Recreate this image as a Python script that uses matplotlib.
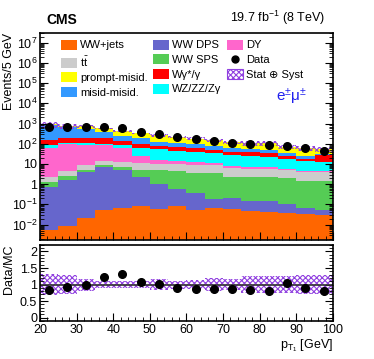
import numpy as np
import matplotlib
matplotlib.use("Agg")
import matplotlib.pyplot as plt
from matplotlib.patches import Patch
from matplotlib.lines import Line2D
from matplotlib.ticker import MultipleLocator, FixedLocator, FixedFormatter, NullFormatter

plt.rcParams['font.family'] = ['Liberation Sans', 'DejaVu Sans']
plt.rcParams['mathtext.fontset'] = 'custom'
plt.rcParams['mathtext.rm'] = 'Liberation Sans'
plt.rcParams['mathtext.it'] = 'Liberation Sans'
plt.rcParams['hatch.linewidth'] = 0.8

# ---- data ----
edges = np.arange(20, 101, 5)

ww_jets   = [0.0052, 0.0083, 0.021, 0.051, 0.066, 0.085, 0.062, 0.080, 0.055, 0.069, 0.057, 0.046, 0.042, 0.039, 0.035, 0.031]
ww_dps    = [0.715, 1.69, 3.78, 7.15, 4.83, 2.21, 1.01, 0.48, 0.315, 0.12, 0.15, 0.094, 0.098, 0.071, 0.031, 0.024]
ww_sps    = [0.58, 0.80, 1.50, 2.20, 2.30, 3.00, 3.83, 3.74, 3.33, 3.21, 2.19, 2.16, 2.06, 1.89, 1.33, 1.40]
ttbar     = [1.0, 2.1, 3.4, 4.6, 5.4, 5.9, 5.6, 5.5, 5.0, 5.3, 4.2, 3.6, 3.7, 2.9, 2.6, 2.55]
dy        = [62.7, 91.4, 82.3, 71.0, 46.4, 12.8, 6.1, 4.2, 3.9, 2.5, 1.2, 1.2, 1.2, 1.0, 0.4, 0.6]
wz_zz     = [20, 14, 19, 17, 26, 41, 35.4, 31, 27.4, 21.8, 19.2, 16.9, 14.9, 12.7, 9.6, 8.0]
wgamma    = [65, 85, 72, 80, 53, 37, 24, 21, 19, 15, 13, 13, 11, 6.4, 4.6, 14.4]
misid2    = [680, 455, 343, 181, 107, 80, 47, 49, 41, 28, 19, 15, 15, 10, 6.4, 3.0]
prompt_mi = [100, 130, 215, 212, 190, 140, 145, 95, 80, 70, 64, 58, 56, 37, 36, 24]

data_counts = [690, 690, 690, 690, 575, 375, 290, 204, 165, 138, 110, 92, 86, 76, 59, 44]
ratio       = [0.83, 0.93, 0.98, 1.23, 1.33, 1.07, 1.01, 0.90, 0.87, 0.88, 0.88, 0.83, 0.81, 1.05, 0.89, 0.81]
rel_unc     = [0.33, 0.28, 0.18, 0.10, 0.11, 0.10, 0.16, 0.12, 0.14, 0.19, 0.17, 0.27, 0.27, 0.27, 0.28, 0.30]

stack = [
    (ww_jets,   '#ff6600', 'WW+jets'),
    (ww_dps,    '#6666cc', 'WW DPS'),
    (ww_sps,    '#55cc55', 'WW SPS'),
    (ttbar,     '#cccccc', r'$\mathrm{t\bar{t}}$'),
    (dy,        '#ff66cc', 'DY'),
    (wz_zz,     '#00ffff', 'WZ/ZZ/Z\u03b3'),
    (wgamma,    '#ff0000', 'W\u03b3*/\u03b3'),
    (misid2,    '#3399ff', 'misid-misid.'),
    (prompt_mi, '#ffff00', 'prompt-misid.'),
]
band_col = '#9040e0'

fig = plt.figure(figsize=(3.74, 3.59), dpi=100)
ax = fig.add_axes([0.107, 0.331, 0.783, 0.577])
axr = fig.add_axes([0.107, 0.106, 0.783, 0.212])

centers = edges[:-1] + 2.5
bottom = np.zeros(len(centers))
for vals, col, lab in stack:
    ax.bar(edges[:-1], vals, width=5, bottom=bottom, align='edge', color=col, linewidth=0)
    bottom = bottom + np.array(vals)
total = bottom
rel = np.array(rel_unc)

# uncertainty band on top of the stack
ax.bar(edges[:-1], 2 * rel * total, width=5, bottom=total * (1 - rel), align='edge',
       fill=False, hatch='xxxxxx', edgecolor=band_col, linewidth=0)

dc = np.array(data_counts)
ax.errorbar(centers, dc, yerr=np.sqrt(dc), fmt='o', color='black', ms=5.5, elinewidth=1, capsize=0)

ax.set_yscale('log')
ax.set_ylim(1.7e-3, 3e7)
ax.set_xlim(20, 100)
dec = [1e-2, 1e-1, 1, 10, 1e2, 1e3, 1e4, 1e5, 1e6, 1e7]
declab = [r'$10^{-2}$', r'$10^{-1}$', '1', '10', r'$10^{2}$', r'$10^{3}$',
          r'$10^{4}$', r'$10^{5}$', r'$10^{6}$', r'$10^{7}$']
ax.yaxis.set_major_locator(FixedLocator(dec))
ax.yaxis.set_major_formatter(FixedFormatter(declab))
ax.yaxis.set_minor_locator(matplotlib.ticker.LogLocator(base=10, subs=np.arange(2, 10), numticks=20))
ax.yaxis.set_minor_formatter(NullFormatter())
ax.xaxis.set_major_locator(MultipleLocator(10))
ax.xaxis.set_minor_locator(MultipleLocator(2))
ax.set_xticklabels([])
ax.set_ylabel('Events/5 GeV', fontsize=9, loc='top')
ax.yaxis.set_label_coords(-0.085, 1.0)

for a in (ax, axr):
    a.tick_params(which='both', direction='in', right=True, top=False, labelsize=9, pad=2)
    a.tick_params(which='major', length=6)
    a.tick_params(which='minor', length=3)
    for s in a.spines.values():
        s.set_linewidth(1.2)

# legend
handles = [Patch(facecolor=c, edgecolor='none') for _, c, _ in stack]
labels = [l for _, _, l in stack]
h = {l: p for p, l in zip(handles, labels)}
order = ['WW+jets', r'$\mathrm{t\bar{t}}$', 'prompt-misid.', 'misid-misid.',
         'WW DPS', 'WW SPS', 'W\u03b3*/\u03b3', 'WZ/ZZ/Z\u03b3', 'DY']
leg_h = [h[o] for o in order]
leg_h.append(Line2D([], [], marker='o', color='black', ls='none', ms=5))
leg_h.append(Patch(facecolor='white', hatch='xxxxxx', edgecolor=band_col, linewidth=0.8))
leg_l = order + ['Data', 'Stat \u2295 Syst']
ax.legend(leg_h, leg_l, ncol=3, loc='upper left', bbox_to_anchor=(0.05, 1.0), frameon=False,
          fontsize=8, handlelength=1.4, handleheight=1.0, handletextpad=0.3,
          columnspacing=0.5, labelspacing=0.35, borderaxespad=0.2)

ax.text(0.86, 0.69, 'e$^{\\pm}$\u03bc$^{\\pm}$', transform=ax.transAxes, color='#2020ee',
        fontsize=11, ha='center', va='center')
fig.text(0.123, 0.925, 'CMS', fontsize=10, fontweight='bold', ha='left', va='bottom')
fig.text(0.87, 0.925, r'19.7 fb$^{-1}$ (8 TeV)', fontsize=9, ha='right', va='bottom')

# ratio panel
axr.bar(edges[:-1], 2 * rel, width=5, bottom=1 - rel, align='edge',
        fill=False, hatch='xxxxxx', edgecolor=band_col, linewidth=0)
axr.axhline(1, color='#333333', lw=1.2)
rt = np.array(ratio)
axr.errorbar(centers, rt, yerr=rt / np.sqrt(dc), fmt='o', color='black', ms=5.5, elinewidth=1, capsize=0)
axr.set_xlim(20, 100)
axr.set_ylim(-0.1, 2.2)
axr.yaxis.set_major_locator(FixedLocator([0, 0.5, 1, 1.5, 2]))
axr.yaxis.set_major_formatter(FixedFormatter(['0', '0.5', '1', '1.5', '2']))
axr.yaxis.set_minor_locator(MultipleLocator(0.1))
axr.xaxis.set_major_locator(MultipleLocator(10))
axr.xaxis.set_minor_locator(MultipleLocator(2))
axr.set_ylabel('Data/MC', fontsize=9, loc='top')
axr.yaxis.set_label_coords(-0.085, 1.0)
axr.set_xlabel(r'p$_{\mathrm{T}_{1}}$ [GeV]', fontsize=9, loc='right', labelpad=1)

fig.savefig('out.png', dpi=100)
